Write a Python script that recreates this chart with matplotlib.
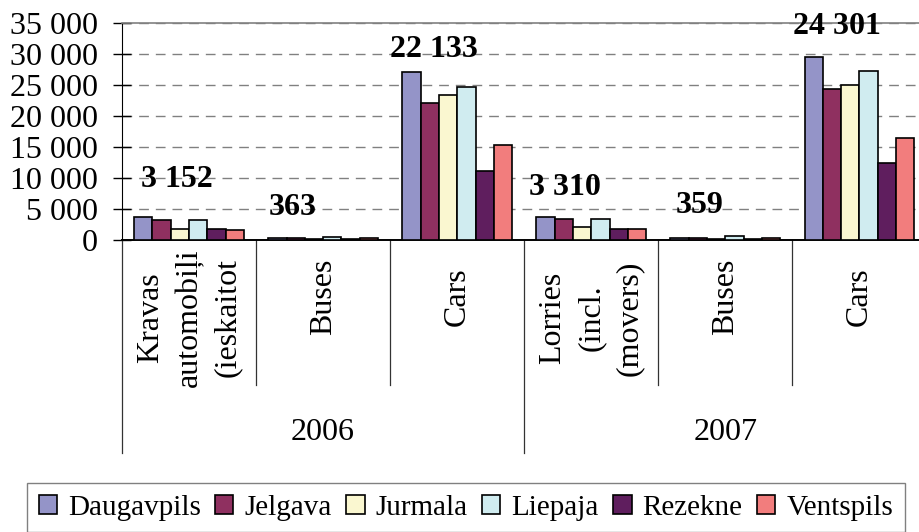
import matplotlib
matplotlib.use('Agg')
import matplotlib.pyplot as plt
import matplotlib.transforms as mtransforms
import numpy as np

plt.rcParams['font.family'] = ['Liberation Serif', 'DejaVu Serif']

# Data (vehicles registered, by city)
years = ['2006', '2007']
categories = ['Kravas\nautomobiļi\n(ieskaitot', 'Buses', 'Cars',
              'Lorries\n(incl.\n(movers)', 'Buses', 'Cars']
cities = ['Daugavpils', 'Jelgava', 'Jurmala', 'Liepaja', 'Rezekne', 'Ventspils']
daugavpils = [3760, 280, 27050, 3760, 270, 29570]
jelgava = [3152, 363, 22133, 3310, 359, 24301]
jurmala = [1830, 180, 23390, 2150, 190, 25050]
liepaja = [3170, 560, 24730, 3440, 600, 27310]
rezekne = [1830, 230, 11180, 1770, 240, 12470]
ventspils = [1560, 250, 15370, 1830, 260, 16400]
series = [daugavpils, jelgava, jurmala, liepaja, rezekne, ventspils]
colors = ['#9494C8', '#8F3060', '#FAF7D0', '#D0ECF0', '#5F1E5E', '#F27D7D']

# where the bold Jelgava labels sit (x offset in groups, y in axes fraction)
label_dx = [-0.09, -0.23, -0.17, -0.20, -0.19, -0.17]
label_y = [0.281, 0.152, 0.880, 0.240, 0.161, 0.986]


def fmt(v):
    return f"{v:,.0f}".replace(',', ' ')


W, H = 920, 532
fig = plt.figure(figsize=(W / 100, H / 100), dpi=100)
ax = fig.add_axes([122 / W, (H - 240) / H, 804.5 / W, 217 / H])

x = np.arange(len(categories))
bw = 0.1365
for j, (city, vals) in enumerate(zip(cities, series)):
    ax.bar(x + (j - 2.5) * bw, vals, bw, color=colors[j], edgecolor='black',
           linewidth=1.2, label=city, zorder=3)

ax.set_xlim(-0.5, len(categories) - 0.5)
ax.set_ylim(0, 35000)
ax.set_yticks(range(0, 35001, 5000))
ax.set_yticklabels([fmt(v) for v in range(0, 35001, 5000)])
ax.tick_params(axis='y', direction='inout', length=13, width=1, pad=11,
               labelsize=23)
ax.set_xticks([])
ax.yaxis.grid(True, linestyle=(0, (7, 5)), color='#808080', linewidth=1)
ax.set_axisbelow(True)

ax.spines['left'].set_color('black')
ax.spines['bottom'].set_color('black')
ax.spines['bottom'].set_linewidth(1.4)
ax.spines['top'].set_color('#808080')
ax.spines['top'].set_linewidth(1.2)
ax.spines['right'].set_visible(False)

trans = mtransforms.blended_transform_factory(ax.transData, ax.transAxes)

# value labels
for i, v in enumerate(jelgava):
    ax.text(i + label_dx[i], label_y[i], fmt(v), transform=trans,
            ha='center', va='center', fontsize=23, fontweight='bold',
            zorder=5)

# category labels and dividers
for i, cat in enumerate(categories):
    yc = -0.359 if '\n' in cat else -0.262
    ax.text(i, yc, cat, transform=trans, rotation=90, ha='center',
            va='center', multialignment='center', fontsize=23,
            linespacing=1.42)
for i in range(len(categories) + 1):
    bot = -0.982 if i % 3 == 0 else -0.668
    ax.plot([i - 0.5, i - 0.5], [0, bot], transform=trans, color='#333333',
            linewidth=0.9, clip_on=False)

for k, yr in enumerate(years):
    ax.text(3 * k + 1, -0.885, yr, transform=trans, ha='center', va='center',
            fontsize=23)

handles, labels = ax.get_legend_handles_labels()
leg = fig.legend(handles, labels, loc='upper left',
                 bbox_to_anchor=(27 / W, (H - 483) / H), ncol=6,
                 fancybox=False, edgecolor='#808080', framealpha=1,
                 fontsize=21, handlelength=0.62, handleheight=0.62,
                 handletextpad=0.38, columnspacing=0.5, borderaxespad=0,
                 borderpad=0.4)
leg.get_frame().set_linewidth(1)

fig.savefig('out.png', dpi=100)
